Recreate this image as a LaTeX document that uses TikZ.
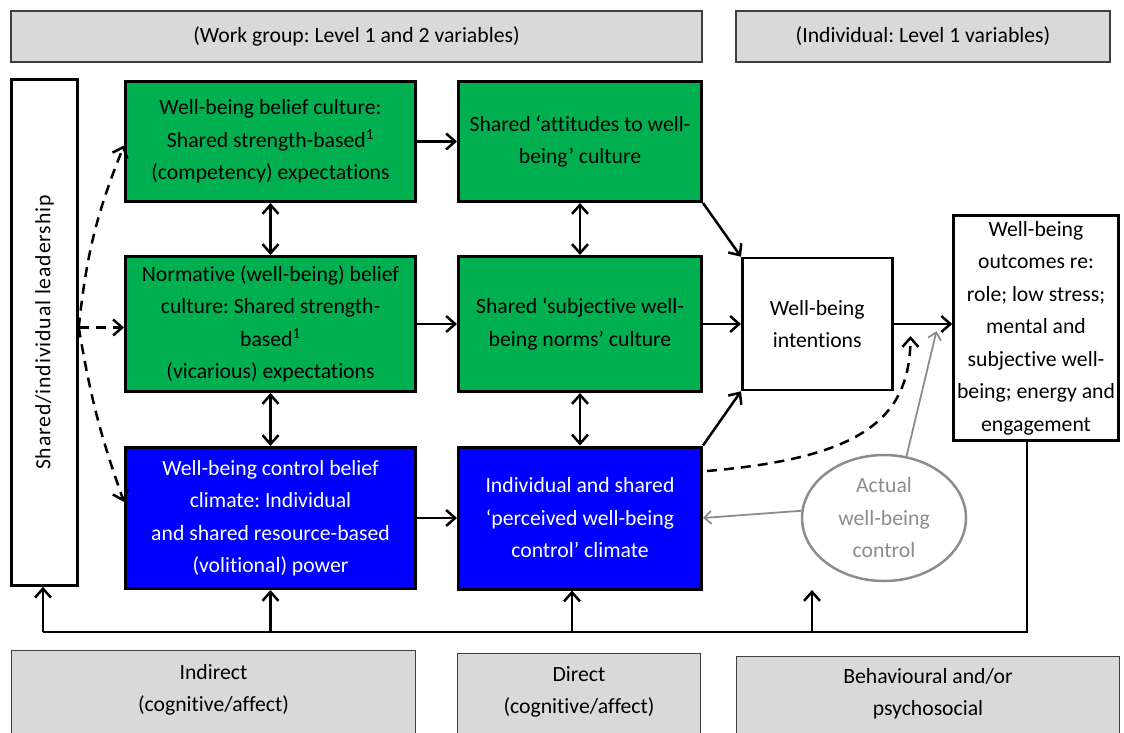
\documentclass[tikz,border=0pt]{standalone}
\usepackage{fontspec}
\setmainfont{Carlito}[Ligatures={TeX,NoCommon}]
\usepackage{tikz}
\usetikzlibrary{positioning, shapes.geometric, graphs, arrows.meta}
\usepackage{xcolor}
\definecolor{boxgreen}{RGB}{0,176,80}
\definecolor{boxblue}{RGB}{0,0,255}
\definecolor{panelgray}{RGB}{217,217,217}
\definecolor{linegray}{RGB}{140,140,140}
\frenchspacing

\begin{document}
\begin{tikzpicture}[x=1pt, y=-1pt, node distance=40pt,
    >={Straight Barb[length=9pt, width=16pt]},
    every node/.style={font=\fontsize{21.7}{32.5}\selectfont, align=center, inner sep=0pt},
    panel/.style={draw=black!75, fill=panelgray, line width=1.2pt},
    greenbox/.style={draw, line width=3pt, fill=boxgreen, minimum width=290pt},
    bluebox/.style={draw, line width=3pt, fill=boxblue, text=white, minimum width=290pt},
    plainbox/.style={draw, line width=2.5pt, fill=white},
    link/.style={->, line width=2.5pt},
    dashlink/.style={link, dash pattern=on 10pt off 7pt},
    graylink/.style={->, draw=linegray, line width=1.8pt, >={Straight Barb[length=7pt, width=13pt]}}]
\useasboundingbox (0,0) rectangle (1124,733);

\node[panel, minimum width=691pt, minimum height=51pt] (workgroup) at (356.5,36.5) {(Work group: Level 1 and 2 variables)};
\node[panel, minimum width=374pt, minimum height=51pt] (individual) at (923,36.5) {(Individual: Level 1 variables)};

\node[plainbox, minimum width=66pt, minimum height=506pt] (lead) at (44.5,332.5) {};
\node[rotate=90, font=\fontsize{21.7}{26}\selectfont\addfontfeature{LetterSpace=4}] (leadtext) at (lead) {Shared/individual leadership};

\node[greenbox, minimum height=120pt] (belief) at (270.5,141.5) {Well-being belief culture:\\Shared strength-based\textsuperscript{1}\\(competency) expectations};
\node[greenbox, minimum height=135pt, below=52pt of belief] (normative) {Normative (well-being) belief\\culture: Shared strength-\\based\textsuperscript{1}\\(vicarious) expectations};
\node[bluebox, minimum height=141pt, below=53pt of normative] (control) {Well-being control belief\\climate: Individual\\and shared resource-based\\(volitional) power};

\node[greenbox, minimum width=243pt, minimum height=120pt, right=of belief] (attitudes) {Shared ‘attitudes to well-\\being’ culture};
\node[greenbox, minimum width=243pt, minimum height=135pt, right=of normative] (norms) {Shared ‘subjective well-\\being norms’ culture};
\node[bluebox, minimum width=243pt, minimum height=142pt, right=of control] (perceived) {Individual and shared\\‘perceived well-being\\control’ climate};

\node[plainbox, minimum width=150pt, minimum height=132pt, right=38pt of norms] (intent) {Well-being\\intentions};
\node[plainbox, minimum width=165pt, minimum height=225pt] (outcome) at (1036,328) {Well-being\\outcomes re:\\role; low stress;\\mental and\\subjective well-\\being; energy and\\engagement};

\node[ellipse, draw=linegray, line width=2.5pt, text=linegray, minimum width=164pt, minimum height=126pt] (actual) at (884,518) {Actual\\well-being\\control};

\node[panel, anchor=north, minimum width=404pt, minimum height=110pt] (indirect) at (213.5,650) {};
\node[below=14pt of indirect.north] (indirecttext) {Indirect\\(cognitive/affect)};
\node[panel, anchor=north, minimum width=243pt, minimum height=110pt] (direct) at (579,653) {};
\node[below=13pt of direct.north] (directtext) {Direct\\(cognitive/affect)};
\node[panel, anchor=north, minimum width=383pt, minimum height=110pt] (behave) at (928,656) {};
\node[below=12pt of behave.north] (behavetext) {Behavioural and/or\\psychosocial};

\begin{scope}[line width=2.5pt]
\graph{
    (belief) -> (attitudes);
    (normative) -> (norms) -> (intent);
    (control) -> (perceived);
    (belief) <-> (normative) <-> (control);
    (attitudes) <-> (norms) <-> (perceived);
};
\end{scope}

\draw[link] (attitudes.south east) -- (intent.north west);
\draw[link] (perceived.north east) -- (intent.south west);
\draw[link] (intent.east) -- (intent.east -| outcome.west);

\coordinate (fork) at ([yshift=5pt]lead.east);
\draw[dashlink] (fork) to[bend left=8] ([yshift=-4pt]belief.west);
\draw[dashlink] (fork) -- (fork -| normative.west);
\draw[dashlink] (fork) to[bend right=5] ([yshift=16pt]control.west);

\coordinate (dashstart) at ([xshift=4pt, yshift=47pt]perceived.east);
\coordinate (dashtip) at ([xshift=17pt, yshift=-12pt]intent.east);
\draw[dashlink] (dashstart) .. controls (860,458) and (910,420) .. (dashtip);

\coordinate (graytip) at ([xshift=43pt, yshift=-7pt]intent.east);
\draw[graylink] (actual.70) -- (graytip);
\draw[graylink] (actual.175) -- (perceived.east);

\coordinate (busleft) at (43,632);
\coordinate (busright) at (1027,632);
\coordinate (tap) at ([xshift=-8pt]perceived.south);
\coordinate (freetip) at (812,590);
\draw[line width=2.5pt] (busright |- outcome.south) -- (busright) -- (busleft);
\draw[link] (busleft) -- (busleft |- lead.south);
\draw[link] (control.south |- busleft) -- (control.south);
\draw[link] (tap |- busleft) -- (tap);
\draw[link] (freetip |- busleft) -- (freetip);
\end{tikzpicture}
\end{document}
